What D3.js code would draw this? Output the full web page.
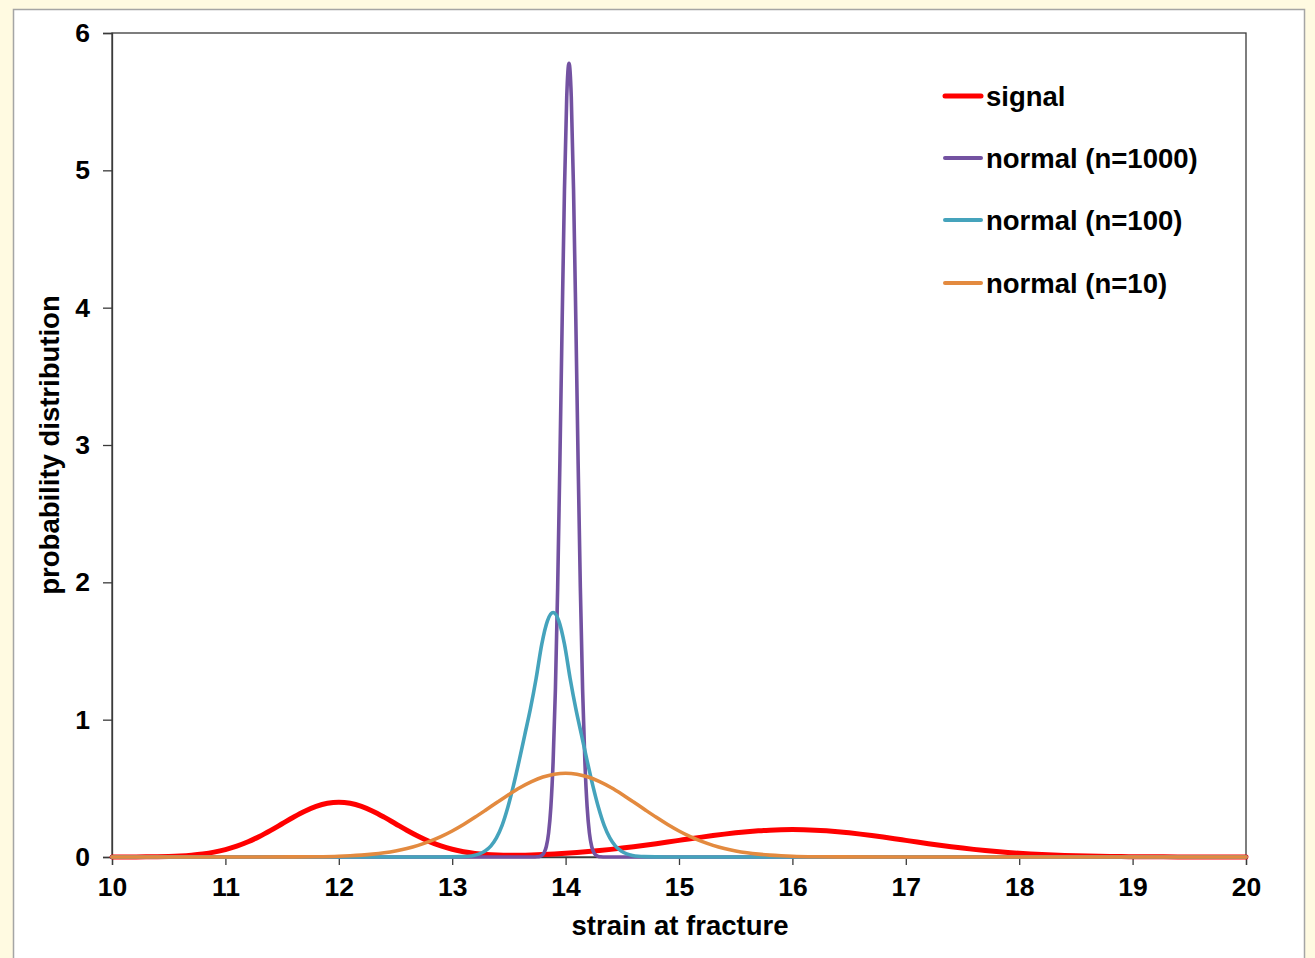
<!DOCTYPE html>
<html>
<head>
<meta charset="utf-8">
<script src="https://cdn.jsdelivr.net/npm/d3@7/dist/d3.min.js"></script>
<style>
  html, body { margin: 0; padding: 0; background: #FFFAE1; }
  svg { display: block; }
  text { font-family: "Liberation Sans", Arial, sans-serif; font-weight: bold; fill: #000; }
</style>
</head>
<body>
<svg id="chart" width="1315" height="958"></svg>
<script>
// Axis ticks
const xTicks = [10, 11, 12, 13, 14, 15, 16, 17, 18, 19, 20];
const yTicks = [0, 1, 2, 3, 4, 5, 6];

// Series names (legend order)
const seriesNames = ["signal", "normal (n=1000)", "normal (n=100)", "normal (n=10)"];

// signal: [strain, density]
const signal = [
  [10.0,0.0001],[10.1,0.0003],[10.2,0.0006],[10.3,0.0012],[10.4,0.0024],[10.5,0.0044],[10.6,0.0079],[10.7,0.0136],[10.8,0.0224],[10.9,0.0355],
  [11.0,0.0540],[11.1,0.0790],[11.2,0.1109],[11.3,0.1497],[11.4,0.1942],[11.5,0.2420],[11.6,0.2897],[11.7,0.3333],[11.8,0.3683],[11.9,0.3911],
  [12.0,0.3991],[12.1,0.3912],[12.2,0.3685],[12.3,0.3335],[12.4,0.2900],[12.5,0.2424],[12.6,0.1948],[12.7,0.1506],[12.8,0.1121],[12.9,0.0806],
  [13.0,0.0562],[13.1,0.0385],[13.2,0.0264],[13.3,0.0188],[13.4,0.0147],[13.5,0.0132],[13.6,0.0136],[13.7,0.0154],[13.8,0.0183],[13.9,0.0223],
  [14.0,0.0271],[14.1,0.0328],[14.2,0.0395],[14.3,0.0470],[14.4,0.0555],[14.5,0.0648],[14.6,0.0749],[14.7,0.0857],[14.8,0.0971],[14.9,0.1089],
  [15.0,0.1210],[15.1,0.1331],[15.2,0.1449],[15.3,0.1562],[15.4,0.1666],[15.5,0.1761],[15.6,0.1842],[15.7,0.1907],[15.8,0.1956],[15.9,0.1985],
  [16.0,0.1995],[16.1,0.1985],[16.2,0.1956],[16.3,0.1907],[16.4,0.1842],[16.5,0.1761],[16.6,0.1666],[16.7,0.1562],[16.8,0.1449],[16.9,0.1331],
  [17.0,0.1210],[17.1,0.1089],[17.2,0.0971],[17.3,0.0857],[17.4,0.0749],[17.5,0.0648],[17.6,0.0555],[17.7,0.0470],[17.8,0.0395],[17.9,0.0328],
  [18.0,0.0270],[18.1,0.0220],[18.2,0.0177],[18.3,0.0142],[18.4,0.0112],[18.5,0.0088],[18.6,0.0068],[18.7,0.0052],[18.8,0.0040],[18.9,0.0030],
  [19.0,0.0022],[19.2,0.0012],[19.4,0.0006],[19.6,0.0003],[19.8,0.0001],[20.0,0.0000]
];

// normal (n=1000)
const normal1000 = [
  [10.0,0],[13.70,0],[13.73,0.0003],[13.75,0.0012],[13.77,0.0039],[13.79,0.0114],[13.81,0.0309],[13.83,0.0766],
  [13.85,0.174],[13.87,0.363],[13.89,0.695],[13.91,1.218],[13.93,1.961],[13.95,2.894],[13.97,3.917],[13.99,4.861],
  [14.01,5.536],[14.03,5.78],[14.05,5.536],[14.07,4.861],[14.09,3.917],[14.11,2.894],[14.13,1.961],[14.15,1.218],
  [14.17,0.695],[14.19,0.363],[14.21,0.174],[14.23,0.0766],[14.25,0.0309],[14.27,0.0114],[14.29,0.0039],[14.31,0.0012],
  [14.33,0.0003],[14.36,0],[20.0,0]
];

// normal (n=100)
const normal100 = [
  [10.0,0],[12.89,0],[13.09,0.0024],[13.14,0.0054],[13.19,0.0114],[13.24,0.023],[13.29,0.044],[13.34,0.079],
  [13.39,0.139],[13.44,0.23],[13.49,0.36],[13.54,0.52],[13.59,0.70],[13.64,0.89],[13.69,1.08],[13.74,1.30],
  [13.79,1.55],[13.84,1.72],[13.89,1.78],[13.94,1.72],[13.99,1.55],[14.04,1.30],[14.09,1.08],[14.14,0.89],
  [14.19,0.70],[14.24,0.52],[14.29,0.36],[14.34,0.23],[14.39,0.139],[14.44,0.079],[14.49,0.044],[14.54,0.023],
  [14.59,0.0114],[14.64,0.0054],[14.69,0.0024],[14.89,0],[20.0,0]
];

// normal (n=10)
const normal10 = [
  [10.0,0],[11.0,0],[11.6,0.0007],[11.8,0.0021],[12.0,0.0057],[12.1,0.0090],[12.2,0.0138],[12.3,0.0208],[12.4,0.0306],
  [12.5,0.0439],[12.6,0.0617],[12.7,0.0846],[12.8,0.1133],[12.9,0.1482],[13.0,0.1895],[13.1,0.2367],[13.2,0.2887],
  [13.3,0.3440],[13.4,0.4005],[13.5,0.4554],[13.6,0.5059],[13.7,0.5491],[13.8,0.5821],[13.9,0.6029],[14.0,0.6100],
  [14.1,0.6029],[14.2,0.5821],[14.3,0.5491],[14.4,0.5059],[14.5,0.4554],[14.6,0.4005],[14.7,0.3440],[14.8,0.2887],
  [14.9,0.2367],[15.0,0.1895],[15.1,0.1482],[15.2,0.1133],[15.3,0.0846],[15.4,0.0617],[15.5,0.0439],[15.6,0.0306],
  [15.7,0.0208],[15.8,0.0138],[15.9,0.0090],[16.0,0.0057],[16.2,0.0021],[16.4,0.0007],[17.0,0],[20.0,0]
];

const seriesData = [signal, normal1000, normal100, normal10];
const seriesColors = ["#FF0000", "#7352A1", "#45A3BC", "#E38A3F"];
const seriesWidths = [5, 3.6, 3.6, 3.6];

const svg = d3.select("#chart");
const W = 1315, H = 958;

// Background and white chart frame
svg.append("rect").attr("x", 0).attr("y", 0).attr("width", W).attr("height", H).attr("fill", "#FFFAE1");
svg.append("rect").attr("x", 13.5).attr("y", 9.5).attr("width", 1291).attr("height", 960)
  .attr("fill", "#FFFFFF").attr("stroke", "#A5A5A5").attr("stroke-width", 1.5);

const plot = { left: 112, top: 33, right: 1246, bottom: 857 };
const x = d3.scaleLinear().domain([10, 20]).range([plot.left, plot.right]);
const y = d3.scaleLinear().domain([0, 6]).range([plot.bottom, plot.top]);

// Plot border
svg.append("rect").attr("x", plot.left).attr("y", plot.top)
  .attr("width", plot.right - plot.left).attr("height", plot.bottom - plot.top)
  .attr("fill", "none").attr("stroke", "#3A3A3A").attr("stroke-width", 1.3);

// Axes
const xAxis = svg.append("g").attr("transform", `translate(0,${plot.bottom})`)
  .call(d3.axisBottom(x).tickValues(xTicks).tickSize(8).tickPadding(12).tickFormat(d3.format("d")));
const yAxis = svg.append("g").attr("transform", `translate(${plot.left},0)`)
  .call(d3.axisLeft(y).tickValues(yTicks).tickSize(9).tickPadding(13).tickFormat(d3.format("d")));
[xAxis, yAxis].forEach(g => {
  g.select(".domain").attr("stroke", "#3A3A3A").attr("stroke-width", 1.3);
  g.selectAll(".tick line").attr("stroke", "#3A3A3A").attr("stroke-width", 1.3);
  g.selectAll(".tick text").style("font-size", "26.5px").style("font-family", "'Liberation Sans', Arial, sans-serif")
    .style("font-weight", "bold").attr("fill", "#000");
});

// Axis titles
svg.append("text").attr("x", 680).attr("y", 935)
  .attr("text-anchor", "middle").style("font-size", "27.5px").text("strain at fracture");
svg.append("text").attr("transform", `translate(59,445) rotate(-90)`)
  .attr("text-anchor", "middle").style("font-size", "27.5px").text("probability distribution");

// Curves
const line = d3.line().x(d => x(d[0])).y(d => y(d[1])).curve(d3.curveMonotoneX);
seriesData.forEach((data, i) => {
  svg.append("path").datum(data)
    .attr("d", line)
    .attr("fill", "none")
    .attr("stroke", seriesColors[i])
    .attr("stroke-width", seriesWidths[i])
    .attr("stroke-linejoin", "round")
    .attr("stroke-linecap", "round");
});

// Legend
const legend = svg.append("g");
const legendY = [96, 158, 220, 283];
seriesNames.forEach((name, i) => {
  legend.append("line").attr("x1", 945).attr("x2", 981).attr("y1", legendY[i]).attr("y2", legendY[i])
    .attr("stroke", seriesColors[i]).attr("stroke-width", i === 0 ? 5 : 4).attr("stroke-linecap", "round");
  legend.append("text").attr("x", 986).attr("y", legendY[i] + 9.5).style("font-size", "27.5px").text(name);
});
</script>
</body>
</html>
